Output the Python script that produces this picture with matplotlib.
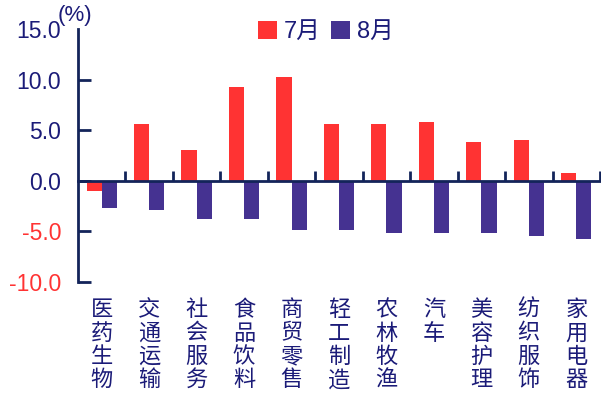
import numpy as np
import matplotlib
matplotlib.use("Agg")
import matplotlib.pyplot as plt
from matplotlib.patches import Patch

plt.rcParams['font.family'] = ['Liberation Sans', 'Noto Sans CJK SC', 'DejaVu Sans']

categories = ["医药生物", "交通运输", "社会服务", "食品饮料", "商贸零售", "轻工制造",
              "农林牧渔", "汽车", "美容护理", "纺织服饰", "家用电器"]
jul = [-1.0, 5.6, 3.0, 9.3, 10.3, 5.6, 5.6, 5.8, 3.8, 4.0, 0.8]
aug = [-2.7, -2.9, -3.8, -3.8, -4.9, -4.9, -5.2, -5.2, -5.2, -5.5, -5.8]
series_names = ["7月", "8月"]
yticks = [-10.0, -5.0, 0.0, 5.0, 10.0, 15.0]

RED = "#ff3333"
BLUE = "#453291"
NAVY = "#1b1b78"
AXIS = "#13245a"

fig = plt.figure(figsize=(6.01, 3.97), dpi=100)
ax = fig.add_axes([78 / 601, 1 - 282 / 397, (600 - 78) / 601, (282 - 29) / 397])

x = np.arange(len(categories)) + 0.5
w = 0.32
ax.bar(x - w / 2, jul, width=w, color=RED, zorder=2)
ax.bar(x + w / 2, aug, width=w, color=BLUE, zorder=2)

ax.set_xlim(0, len(categories))
ax.set_ylim(-10, 15)

for s in ["top", "right"]:
    ax.spines[s].set_visible(False)
ax.spines["left"].set_color(AXIS)
ax.spines["left"].set_linewidth(2)
ax.spines["bottom"].set_position(("data", 0))
ax.spines["bottom"].set_color(AXIS)
ax.spines["bottom"].set_linewidth(2)
ax.spines["bottom"].set_zorder(3)

ax.set_xticks(np.arange(1, len(categories) + 1))
ax.set_xticklabels([])
ax.tick_params(axis="x", direction="in", length=7, width=2, color=AXIS)

ax.set_yticks(yticks)
ax.set_yticklabels([f"{v:.1f}" for v in yticks], fontsize=16.5)
ax.tick_params(axis="y", direction="in", length=9, width=2, color=AXIS, pad=12)
for lbl, v in zip(ax.get_yticklabels(), yticks):
    lbl.set_color(RED if v < 0 else NAVY)
ax.yaxis.get_major_ticks()[-1].tick1line.set_visible(False)

# vertical category labels below the plot area
for xi, name in zip(x, categories):
    ax.text(xi, -11.6, "\n".join(name), ha="center", va="top", fontsize=16,
            color=NAVY, family=["Noto Sans CJK SC", "DejaVu Sans"],
            linespacing=1.02, transform=ax.transData, clip_on=False)

fig.text(58 / 601, 1 - 15 / 397, "(%)", fontsize=16, color=NAVY, ha="left", va="center")

handles = [Patch(facecolor=RED, edgecolor="none"), Patch(facecolor=BLUE, edgecolor="none")]
leg = fig.legend(handles, series_names, loc="center", bbox_to_anchor=(326 / 601, 1 - 32 / 397),
                 ncol=2, frameon=False, handlelength=0.78, handleheight=0.8,
                 handletextpad=0.3, columnspacing=0.45,
                 prop={"family": ["Liberation Sans", "Noto Sans CJK SC"], "size": 17})
for t in leg.get_texts():
    t.set_color(NAVY)

fig.savefig("out.png", dpi=100)
